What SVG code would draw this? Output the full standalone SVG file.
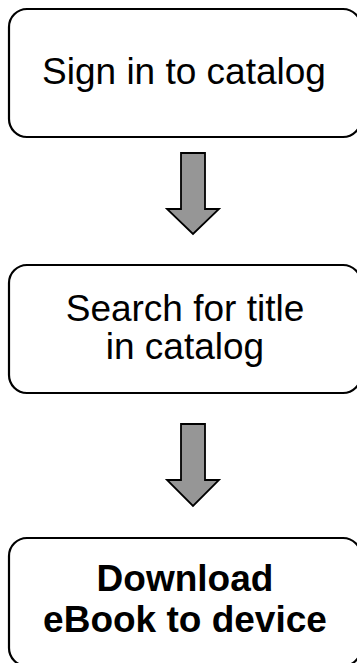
<svg xmlns="http://www.w3.org/2000/svg" width="357" height="663" viewBox="0 0 357 663">
<style>
.box{fill:#fff;stroke:#000;stroke-width:2.2}
.arr{fill:#969696;stroke:#000;stroke-width:1.8;stroke-linejoin:miter}
.t{font-family:"Liberation Sans",Arial,sans-serif;font-size:37px;fill:#000;text-anchor:middle}
.b{font-weight:bold}
</style>
<rect width="357" height="663" fill="#fff"/>
<g id="connectors">
<polygon class="arr" points="181,153 205,153 205,209 219,209 193,234 167,209 181,209"/>
<polygon class="arr" points="181,424 205,424 205,480 219,480 193,506 167,480 181,480"/>
</g>
<g id="node1">
<rect class="box" x="9" y="9" width="352" height="128" rx="18" ry="18"/>
<text class="t" x="184" y="84">Sign in to catalog</text>
</g>
<g id="node2">
<rect class="box" x="9" y="265" width="352" height="128" rx="18" ry="18"/>
<text class="t" x="185" y="321">Search for title</text>
<text class="t" x="185" y="359">in catalog</text>
</g>
<g id="node3">
<rect class="box" x="9" y="538" width="352" height="128" rx="18" ry="18"/>
<text class="t b" x="185" y="591">Download</text>
<text class="t b" x="185" y="632">eBook to device</text>
</g>
</svg>
